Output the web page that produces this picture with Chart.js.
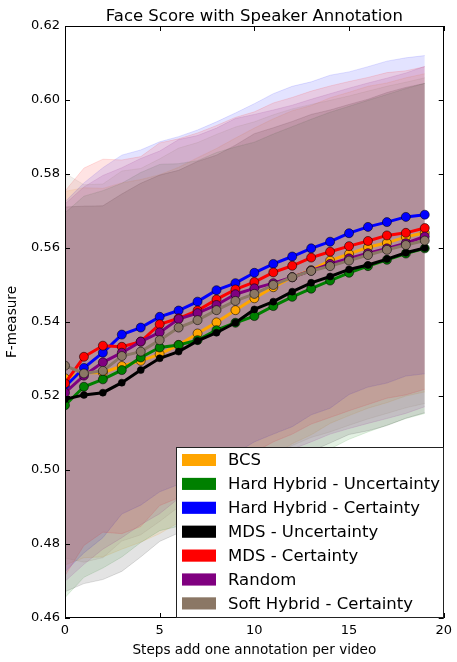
<!DOCTYPE html>
<html>
<head>
<meta charset="utf-8">
<script src="https://cdn.jsdelivr.net/npm/chart.js@4.4.1/dist/chart.umd.min.js"></script>
<style>
  html, body { margin: 0; padding: 0; background: #fff; }
  #wrap { width: 457px; height: 662px; }
</style>
</head>
<body>
<div id="wrap"><canvas id="faceChart"></canvas></div>
<script>
// steps (x axis) and tick values
const steps = [0, 1, 2, 3, 4, 5, 6, 7, 8, 9, 10, 11, 12, 13, 14, 15, 16, 17, 18, 19];
const xTicks = [0, 5, 10, 15, 20];
const yTicks = [0.46, 0.48, 0.50, 0.52, 0.54, 0.56, 0.58, 0.60, 0.62];

const labels = ['BCS', 'Hard Hybrid - Uncertainty', 'Hard Hybrid - Certainty', 'MDS - Uncertainty',
                'MDS - Certainty', 'Random', 'Soft Hybrid - Certainty'];
const colors = ['#ffa500', '#008000', '#0000ff', '#000000', '#ff0000', '#800080', '#8b7765'];

// mean F-measure per step
const bcs      = [0.5248, 0.5263, 0.5263, 0.5281, 0.5295, 0.5313, 0.5338, 0.5369, 0.5399, 0.5432, 0.5464, 0.5494, 0.5521, 0.5540, 0.5566, 0.5584, 0.5602, 0.5614, 0.5630, 0.5641];
const hardUnc  = [0.5175, 0.5225, 0.5245, 0.5270, 0.5304, 0.5331, 0.5338, 0.5351, 0.5378, 0.5398, 0.5416, 0.5443, 0.5468, 0.5490, 0.5512, 0.5533, 0.5551, 0.5568, 0.5585, 0.5599];
const hardCert = [0.5225, 0.5276, 0.5317, 0.5366, 0.5385, 0.5414, 0.5431, 0.5455, 0.5486, 0.5505, 0.5533, 0.5557, 0.5577, 0.5599, 0.5617, 0.5640, 0.5657, 0.5670, 0.5684, 0.5690];
const mdsUnc   = [0.5191, 0.5203, 0.5209, 0.5236, 0.5270, 0.5302, 0.5320, 0.5349, 0.5371, 0.5398, 0.5434, 0.5455, 0.5482, 0.5506, 0.5523, 0.5542, 0.5554, 0.5570, 0.5587, 0.5600];
const mdsCert  = [0.5234, 0.5306, 0.5336, 0.5333, 0.5347, 0.5394, 0.5410, 0.5431, 0.5461, 0.5488, 0.5508, 0.5534, 0.5552, 0.5574, 0.5590, 0.5605, 0.5619, 0.5634, 0.5641, 0.5654];
const random   = [0.5209, 0.5255, 0.5291, 0.5317, 0.5347, 0.5372, 0.5408, 0.5424, 0.5446, 0.5475, 0.5491, 0.5505, 0.5521, 0.5539, 0.5557, 0.5572, 0.5586, 0.5599, 0.5613, 0.5631];
const softCert = [0.5282, 0.5261, 0.5268, 0.5308, 0.5320, 0.5351, 0.5385, 0.5405, 0.5432, 0.5457, 0.5476, 0.5500, 0.5521, 0.5538, 0.5551, 0.5566, 0.5581, 0.5595, 0.5608, 0.5620];

// standard deviation per step (shaded band = mean +/- std)
const bcsStd      = [0.0505, 0.0500, 0.0498, 0.0495, 0.0490, 0.0485, 0.0480, 0.0475, 0.0470, 0.0465, 0.0460, 0.0455, 0.0450, 0.0445, 0.0440, 0.0437, 0.0435, 0.0432, 0.0430, 0.0430];
const hardUncStd  = [0.0520, 0.0515, 0.0510, 0.0505, 0.0500, 0.0495, 0.0490, 0.0485, 0.0480, 0.0475, 0.0470, 0.0465, 0.0460, 0.0458, 0.0455, 0.0450, 0.0448, 0.0447, 0.0446, 0.0446];
const hardCertStd = [0.0500, 0.0500, 0.0500, 0.0485, 0.0480, 0.0473, 0.0470, 0.0464, 0.0455, 0.0460, 0.0457, 0.0460, 0.0460, 0.0450, 0.0450, 0.0436, 0.0433, 0.0435, 0.0430, 0.0430];
const mdsUncStd   = [0.0520, 0.0510, 0.0505, 0.0510, 0.0505, 0.0495, 0.0490, 0.0485, 0.0480, 0.0480, 0.0475, 0.0470, 0.0460, 0.0455, 0.0450, 0.0446, 0.0448, 0.0450, 0.0447, 0.0445];
const mdsCertStd  = [0.0520, 0.0510, 0.0504, 0.0505, 0.0500, 0.0490, 0.0485, 0.0480, 0.0470, 0.0465, 0.0460, 0.0458, 0.0455, 0.0450, 0.0448, 0.0445, 0.0442, 0.0440, 0.0438, 0.0436];
const randomStd   = [0.0510, 0.0510, 0.0505, 0.0500, 0.0495, 0.0490, 0.0485, 0.0480, 0.0478, 0.0475, 0.0470, 0.0468, 0.0465, 0.0463, 0.0460, 0.0460, 0.0460, 0.0460, 0.0460, 0.0460];
const softCertStd = [0.0520, 0.0510, 0.0505, 0.0500, 0.0495, 0.0490, 0.0485, 0.0480, 0.0475, 0.0470, 0.0465, 0.0460, 0.0455, 0.0450, 0.0448, 0.0445, 0.0443, 0.0442, 0.0440, 0.0440];

const means = [bcs, hardUnc, hardCert, mdsUnc, mdsCert, random, softCert];
const stds = [bcsStd, hardUncStd, hardCertStd, mdsUncStd, mdsCertStd, randomStd, softCertStd];

const FONT = 'DejaVu Sans';

function rgba(hex, a) {
    const n = parseInt(hex.slice(1), 16);
    return `rgba(${(n >> 16) & 255}, ${(n >> 8) & 255}, ${n & 255}, ${a})`;
}

// Build datasets: for each series an upper edge, a lower edge filled to it, then the line.
// Higher order is drawn first, so the first series' band ends up at the bottom.
const datasets = [];
means.forEach((m, i) => {
    const upper = steps.map((s, k) => ({ x: s, y: m[k] + stds[i][k] }));
    const lower = steps.map((s, k) => ({ x: s, y: m[k] - stds[i][k] }));
    datasets.push({
        data: upper, borderColor: rgba(colors[i], 0.12), borderWidth: 1,
        pointRadius: 0, fill: false, order: 200 - i
    });
    datasets.push({
        data: lower, borderColor: rgba(colors[i], 0.12), borderWidth: 1,
        backgroundColor: rgba(colors[i], 0.11), pointRadius: 0, fill: '-1', order: 200 - i
    });
});
means.forEach((m, i) => {
    datasets.push({
        label: labels[i],
        data: steps.map((s, k) => ({ x: s, y: m[k] })),
        borderColor: colors[i],
        backgroundColor: colors[i],
        borderWidth: 3,
        pointRadius: i === 3 ? 3.5 : 4.5,
        pointBorderColor: 'rgba(0, 0, 0, 0.55)',
        pointBorderWidth: 1,
        fill: false,
        order: 50 - i
    });
});

// Frame, inward ticks, title and legend box
const framePlugin = {
    id: 'framePlugin',
    afterDraw(chart) {
        const { ctx, chartArea: a, scales: { x, y } } = chart;
        ctx.save();
        ctx.strokeStyle = '#000';
        ctx.lineWidth = 1;
        ctx.strokeRect(Math.round(a.left) + 0.5, Math.round(a.top) + 0.5,
                       Math.round(a.width) - 1, Math.round(a.height) - 1);
        ctx.beginPath();
        xTicks.forEach(v => {
            const px = Math.round(x.getPixelForValue(v)) + 0.5;
            ctx.moveTo(px, a.bottom); ctx.lineTo(px, a.bottom - 5);
            ctx.moveTo(px, a.top); ctx.lineTo(px, a.top + 5);
        });
        yTicks.forEach(v => {
            const py = Math.round(y.getPixelForValue(v)) + 0.5;
            ctx.moveTo(a.left, py); ctx.lineTo(a.left + 5, py);
            ctx.moveTo(a.right, py); ctx.lineTo(a.right - 5, py);
        });
        ctx.stroke();

        // title
        ctx.fillStyle = '#000';
        ctx.font = `16.5px "${FONT}"`;
        ctx.textAlign = 'center';
        ctx.textBaseline = 'alphabetic';
        ctx.fillText('Face Score with Speaker Annotation', (a.left + a.right) / 2, 21);

        // legend
        const lx = 176, ly = 447, lw = Math.round(a.right) - 1 - lx, lh = Math.round(a.bottom) - ly;
        ctx.fillStyle = '#fff';
        ctx.fillRect(lx, ly, lw, lh);
        ctx.strokeStyle = '#222';
        ctx.strokeRect(lx + 0.5, ly + 0.5, lw, lh - 1);
        ctx.font = `16.5px "${FONT}"`;
        ctx.textAlign = 'left';
        ctx.textBaseline = 'middle';
        labels.forEach((lab, i) => {
            const cy = 460 + i * 23.9;
            ctx.fillStyle = colors[i];
            ctx.fillRect(182, cy - 6, 34, 12);
            ctx.strokeStyle = rgba(colors[i], 0.35);
            ctx.strokeRect(182.5, cy - 5.5, 33, 11);
            ctx.fillStyle = '#000';
            ctx.fillText(lab, 228, cy + 1);
        });
        ctx.restore();
    }
};

new Chart(document.getElementById('faceChart'), {
    type: 'line',
    data: { datasets },
    options: {
        responsive: true,
        maintainAspectRatio: false,
        animation: false,
        layout: { padding: { top: 26, right: 8, left: 0, bottom: 0 } },
        plugins: {
            legend: { display: false },
            tooltip: { enabled: false },
            filler: { propagate: false }
        },
        scales: {
            x: {
                type: 'linear',
                min: 0, max: 20,
                afterFit(scale) { scale.height = 44; },
                afterBuildTicks(scale) { scale.ticks = xTicks.map(v => ({ value: v })); },
                grid: { display: false, drawTicks: false },
                border: { display: false },
                ticks: { color: '#000', padding: 5, maxRotation: 0, font: { family: FONT, size: 13 } },
                title: {
                    display: true, text: 'Steps add one annotation per video', color: '#000',
                    font: { family: FONT, size: 13.6 }, padding: { top: 0, bottom: 3 }
                }
            },
            y: {
                min: 0.46, max: 0.62,
                afterFit(scale) { scale.width = 65; },
                afterBuildTicks(scale) { scale.ticks = yTicks.map(v => ({ value: v })); },
                grid: { display: false, drawTicks: false },
                border: { display: false },
                ticks: {
                    color: '#000', padding: 5, font: { family: FONT, size: 13 },
                    callback: v => v.toFixed(2)
                },
                title: {
                    display: true, text: 'F-measure', color: '#000',
                    font: { family: FONT, size: 13.6 }, padding: { top: 4, bottom: 4 }
                }
            }
        }
    },
    plugins: [framePlugin]
});
</script>
</body>
</html>
